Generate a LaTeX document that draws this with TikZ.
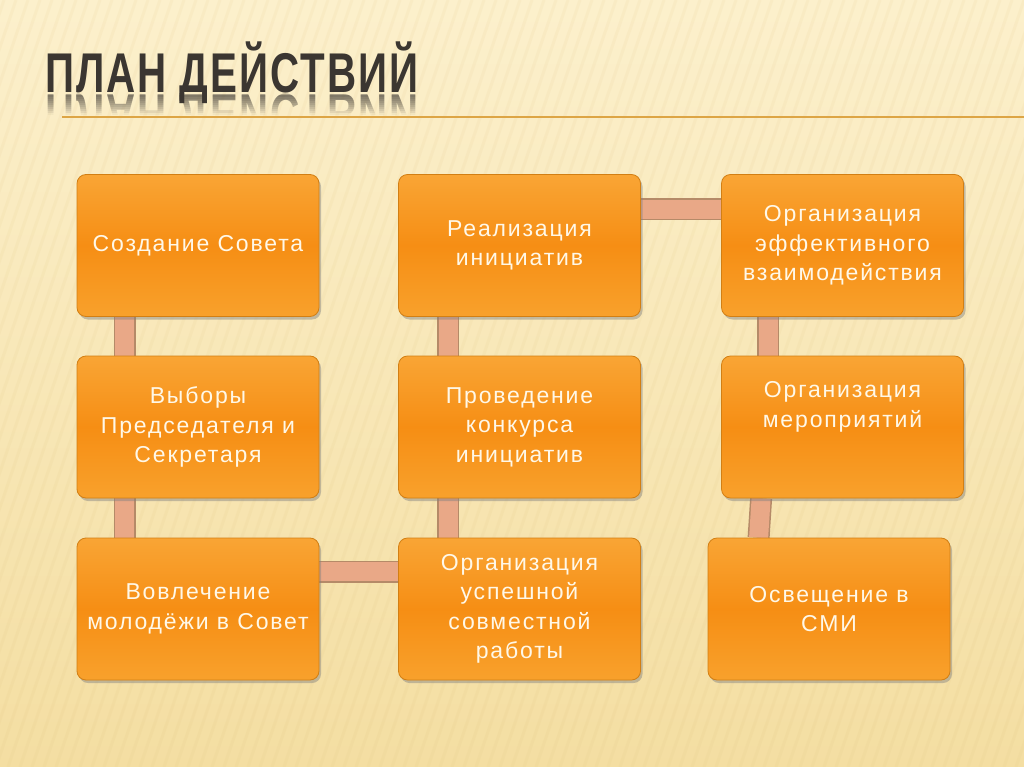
\documentclass[tikz,border=0pt]{standalone}
\usepackage{fontspec}
\usepackage{graphicx}
\setmainfont{Liberation Sans}
\newfontfamily\boxfont[LetterSpace=8]{Liberation Sans}
\newfontfamily\titlefont[LetterSpace=5]{Liberation Sans}
\usetikzlibrary{shadows,calc}
\definecolor{bgtop}{HTML}{FCF0CC}
\definecolor{bgbot}{HTML}{F4DEA2}
\definecolor{stripe}{HTML}{D9B870}
\definecolor{boxtop}{HTML}{F9A535}
\definecolor{boxmid}{HTML}{F68E14}
\definecolor{boxbot}{HTML}{F8A12C}
\definecolor{boxedge}{HTML}{D27F14}
\definecolor{boxtext}{HTML}{FFF8E8}
\definecolor{linkfill}{HTML}{E9A887}
\definecolor{linkedge}{HTML}{B58A68}
\definecolor{titlecol}{HTML}{3B3631}
\definecolor{rulecol}{HTML}{DDA545}
\pgfdeclarelayer{bg}
\pgfdeclarelayer{back}
\pgfsetlayers{bg,back,main}
\begin{document}
\begin{tikzpicture}[x=1pt,y=-1pt,
  stepbox/.style={rectangle, rounded corners=9pt, minimum width=242pt, minimum height=142pt,
    draw=boxedge, line width=0.8pt, shading=axis, top color=boxtop, bottom color=boxbot, middle color=boxmid,
    text=boxtext, align=center, font=\boxfont\fontsize{23}{29.5}\selectfont, inner sep=0pt,
    drop shadow={shadow xshift=2pt, shadow yshift=-3pt, opacity=0.45}},
  link/.style={draw=linkfill, line width=19pt, preaction={draw=linkedge, line width=22pt}},
  titletext/.style={anchor=base west, inner sep=0pt, text=titlecol}]
\useasboundingbox (0,0) rectangle (1024,767);
\begin{pgfonlayer}{bg}
  \fill[top color=bgtop, bottom color=bgbot] (0,0) rectangle (1024,767);
  \foreach \x in {-400,-388,...,1030}
    \draw[stripe, opacity=0.08, line width=3pt] (\x,767) -- (\x+260,0);
\end{pgfonlayer}

% title
\node[titletext] (title) at (45,93) {\scalebox{0.72}[1]{\fontsize{56}{56}\titlefont\bfseries ПЛАН ДЕЙСТВИЙ}};
\foreach \i in {0,...,9} {
  \begin{scope}
    \clip (40,{94+2*\i}) rectangle (440,{96.2+2*\i});
    \node[titletext, text opacity={0.42*(1-\i/10)}] (refl\i) at (45,95) {\scalebox{0.72}[-1]{\fontsize{56}{56}\titlefont\bfseries ПЛАН ДЕЙСТВИЙ}};
  \end{scope}
}
\coordinate (ruleL) at (62,117);
\coordinate (ruleR) at (1024,117);
\draw[rulecol, line width=2.2pt] (ruleL) -- (ruleR);

% boxes
\node[stepbox] (b1) at (198,245.5) {Создание Совета};
\node[stepbox] (b2) at (198,427) {Выборы\\Председателя и\\Секретаря};
\node[stepbox] (b3) at (198,609) {Вовлечение\\молодёжи в Совет};
\node[stepbox] (b4) at (519.5,245.5) {Реализация\\инициатив};
\node[stepbox] (b5) at (519.5,427) {Проведение\\конкурса\\инициатив};
\node[stepbox] (b6) at (519.5,609) {Организация\\успешной\\совместной\\работы};
\node[stepbox] (b7) at (842.5,245.5) {Организация\\эффективного\\взаимодействия};
\node[stepbox, text depth=45pt] (b8) at (842.5,427) {Организация\\мероприятий};
\node[stepbox] (b9) at (829,609) {Освещение в\\СМИ};

% connectors
\begin{pgfonlayer}{back}
  \draw[link] ([xshift=48pt]b1.south west) -- ([xshift=48pt]b2.north west);
  \draw[link] ([xshift=48pt]b2.south west) -- ([xshift=48pt]b3.north west);
  \draw[link] ([yshift=-34pt]b3.north east) -- ([yshift=-34pt]b6.north west);
  \draw[link] ([xshift=50pt]b6.north west) -- ([xshift=50pt]b5.south west);
  \draw[link] ([xshift=50pt]b5.north west) -- ([xshift=50pt]b4.south west);
  \draw[link] ([yshift=-35pt]b4.north east) -- ([yshift=-35pt]b7.north west);
  \draw[link] ([xshift=47pt]b7.south west) -- ([xshift=47pt]b8.north west);
  \draw[link] ([xshift=40pt]b8.south west) -- ([xshift=51pt]b9.north west);
\end{pgfonlayer}
\end{tikzpicture}
\end{document}
